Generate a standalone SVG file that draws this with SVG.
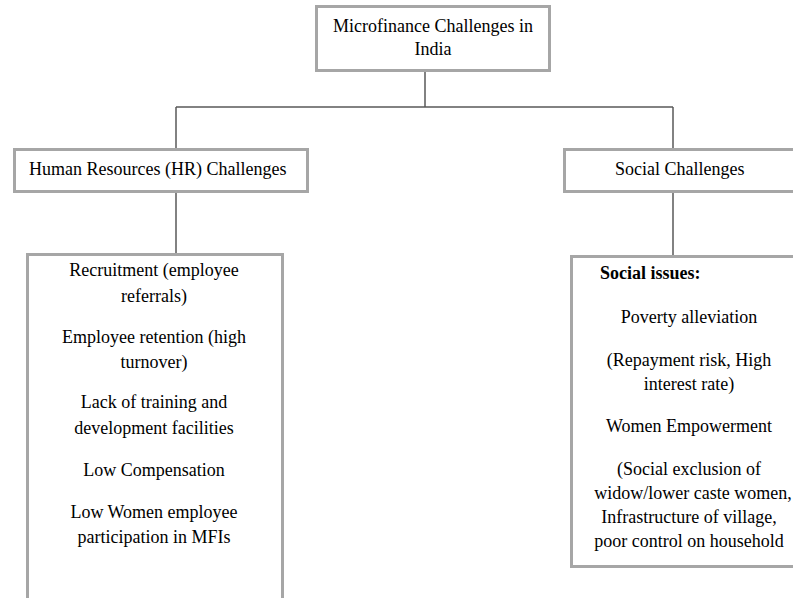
<svg xmlns="http://www.w3.org/2000/svg" width="793" height="598" viewBox="0 0 793 598">
<style>
.box{fill:#fff;stroke:#a6a6a6;stroke-width:3}
.con{fill:none;stroke:#595959;stroke-width:1.5}
text{font-family:"Liberation Serif","Times New Roman",serif;font-size:18px;fill:#000}
.c{text-anchor:middle}
.b{font-weight:bold}
</style>
<rect width="793" height="598" fill="#fff"/>
<g id="connectors">
<path class="con" d="M425,72V107M176,107H673M176,107V148M673,107V148M176,192V253M673,192V255"/>
</g>
<g id="root">
<rect class="box" x="316.5" y="6.5" width="233" height="64"/>
<text class="c" x="433" y="32">Microfinance Challenges in</text>
<text class="c" x="433" y="55">India</text>
</g>
<g id="hr">
<rect class="box" x="14.5" y="149.5" width="293" height="42"/>
<text x="29" y="175">Human Resources (HR) Challenges</text>
</g>
<g id="social">
<rect class="box" x="564.5" y="149.5" width="240" height="42"/>
<text x="615" y="175">Social Challenges</text>
</g>
<g id="hr-details">
<rect class="box" x="27.5" y="254.5" width="255" height="360"/>
<text class="c" x="154" y="276">Recruitment (employee</text>
<text class="c" x="154" y="302">referrals)</text>
<text class="c" x="154" y="343">Employee retention (high</text>
<text class="c" x="154" y="368">turnover)</text>
<text class="c" x="154" y="408">Lack of training and</text>
<text class="c" x="154" y="434">development facilities</text>
<text class="c" x="154" y="476">Low Compensation</text>
<text class="c" x="154" y="518">Low Women employee</text>
<text class="c" x="154" y="543">participation in MFIs</text>
</g>
<g id="social-details">
<rect class="box" x="571.5" y="256.5" width="240" height="310"/>
<text class="b" x="600" y="279">Social issues:</text>
<text class="c" x="689" y="323">Poverty alleviation</text>
<text class="c" x="689" y="366">(Repayment risk, High</text>
<text class="c" x="689" y="390">interest rate)</text>
<text class="c" x="689" y="432">Women Empowerment</text>
<text class="c" x="689" y="475">(Social exclusion of</text>
<text class="c" x="693" y="499">widow/lower caste women,</text>
<text class="c" x="689" y="523">Infrastructure of village,</text>
<text class="c" x="689" y="547">poor control on household</text>
</g>
</svg>
